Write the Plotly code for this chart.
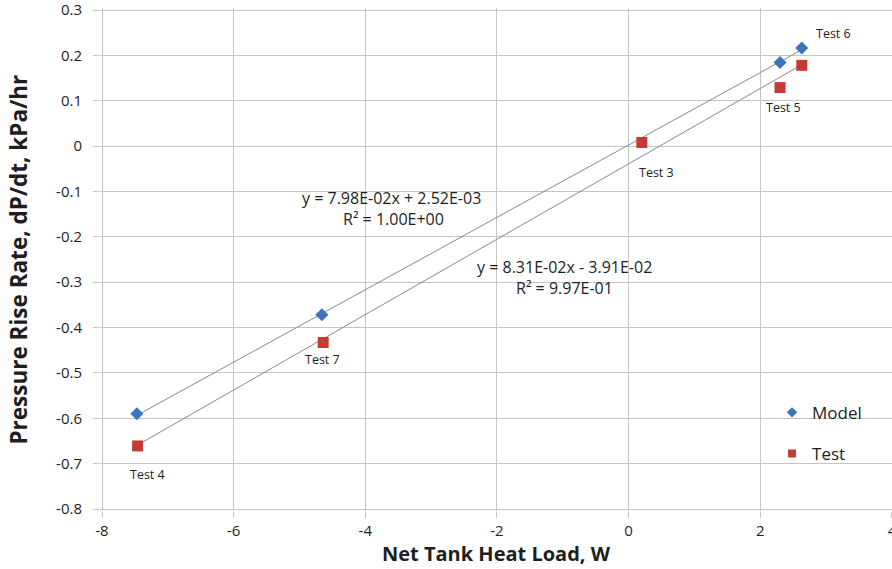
import plotly.graph_objects as go

# Data
model_x = [-7.47, -4.66, 2.3, 2.63]
model_y = [-0.590, -0.372, 0.184, 0.216]
test_x = [-7.46, -4.64, 0.2, 2.3, 2.63]
test_y = [-0.661, -0.433, 0.008, 0.129, 0.178]
test_labels = ["Test 4", "Test 7", "Test 3", "Test 5", "Test 6"]
model_fit = (0.0798, 0.00252)
test_fit = (0.0831, -0.0391)
model_eq = ["y = 7.98E-02x + 2.52E-03", "R² = 1.00E+00"]
test_eq = ["y = 8.31E-02x - 3.91E-02", "R² = 9.97E-01"]
x_ticks = [-8, -6, -4, -2, 0, 2, 4]
y_ticks = [0.3, 0.2, 0.1, 0, -0.1, -0.2, -0.3, -0.4, -0.5, -0.6, -0.7, -0.8]

FONT = "Open Sans"
BLUE = "#3b74bd"
RED = "#c63a36"
TXT = "#1e1e1e"
fig = go.Figure()

def fit_line(xs, coef):
    x0, x1 = min(xs), max(xs)
    return [x0, x1], [coef[0] * x0 + coef[1], coef[0] * x1 + coef[1]]

lx, ly = fit_line(model_x, model_fit)
fig.add_trace(go.Scatter(x=lx, y=ly, mode="lines", line=dict(color="#8a8a8a", width=1), showlegend=False, hoverinfo="skip"))
lx, ly = fit_line(test_x, test_fit)
fig.add_trace(go.Scatter(x=lx, y=ly, mode="lines", line=dict(color="#8a8a8a", width=1), showlegend=False, hoverinfo="skip"))

fig.add_trace(go.Scatter(x=model_x, y=model_y, mode="markers", name="Model", showlegend=False,
                         marker=dict(symbol="diamond", size=10, color=BLUE)))
fig.add_trace(go.Scatter(x=test_x, y=test_y, mode="markers", name="Test", showlegend=False,
                         marker=dict(symbol="square", size=11, color=RED)))
# legend entries (smaller symbols as in the reference legend)
fig.add_trace(go.Scatter(x=[None], y=[None], mode="markers", name="Model", legendgroup="a",
                         marker=dict(symbol="diamond", size=8, color=BLUE)))
fig.add_trace(go.Scatter(x=[None], y=[None], mode="markers", name="Test", legendgroup="b",
                         marker=dict(symbol="square", size=8, color=RED)))

# point labels (pixel offsets from each test point)
offsets = {"Test 4": (9.5, 28.5), "Test 7": (-1, 16.5), "Test 3": (14.5, 30.5),
           "Test 5": (3, 19.5), "Test 6": (32, -32)}
for x, y, t in zip(test_x, test_y, test_labels):
    dx, dy = offsets[t]
    fig.add_annotation(x=x, y=y, text=t, showarrow=False, xshift=dx, yshift=-dy,
                       font=dict(family=FONT, size=12.5, color=TXT))

EQF = dict(family=FONT, size=16, color=TXT)
fig.add_annotation(x=-3.6, y=-0.115, text=model_eq[0], showarrow=False, font=EQF)
fig.add_annotation(x=-3.57, y=-0.160, text=model_eq[1], showarrow=False, font=EQF)
fig.add_annotation(x=-0.98, y=-0.266, text=test_eq[0], showarrow=False, font=EQF)
fig.add_annotation(x=-0.98, y=-0.312, text=test_eq[1], showarrow=False, font=EQF)

# axis titles
fig.add_annotation(xref="paper", yref="paper", x=-0.1035, y=0.5, textangle=-90,
                   text="<b>Pressure Rise Rate, dP/dt, kPa/hr</b>", showarrow=False,
                   xanchor="center", yanchor="middle", font=dict(family=FONT, size=22.5, color=TXT))
fig.add_annotation(xref="paper", yref="paper", x=0.501, y=-0.0835,
                   text="<b>Net Tank Heat Load, W</b>", showarrow=False,
                   xanchor="center", yanchor="middle", font=dict(family=FONT, size=20, color=TXT))

fig.update_layout(
    width=892, height=569,
    margin=dict(l=100, r=0, t=8, b=58),
    plot_bgcolor="white", paper_bgcolor="white",
    font=dict(family=FONT, size=15, color=TXT),
    legend=dict(x=0.8485, y=0.231, xanchor="left", yanchor="top", font=dict(size=17, family=FONT, color=TXT),
                tracegroupgap=16, bgcolor="rgba(0,0,0,0)"),
    xaxis=dict(range=[-8.0304, 4.0007], tickvals=x_ticks, ticktext=[str(v) for v in x_ticks],
               showgrid=True, gridcolor="#c4c4c4", gridwidth=1, automargin=False,
               zeroline=False, ticks="outside", ticklen=6, tickcolor="#c4c4c4",
               ticklabeloverflow="allow", showline=False),
    yaxis=dict(range=[-0.8044, 0.3044], tickvals=y_ticks, ticktext=[("%g" % v) for v in y_ticks],
               showgrid=True, gridcolor="#c4c4c4", gridwidth=1, automargin=False,
               zeroline=False, ticks="outside", ticklen=6, tickcolor="#c4c4c4",
               ticklabeloverflow="allow", ticklabelstandoff=8, showline=False),
)
fig.write_html("out.html", config={"displayModeBar": False},
               post_script="document.body.style.margin='0px';document.body.style.overflow='hidden';")
